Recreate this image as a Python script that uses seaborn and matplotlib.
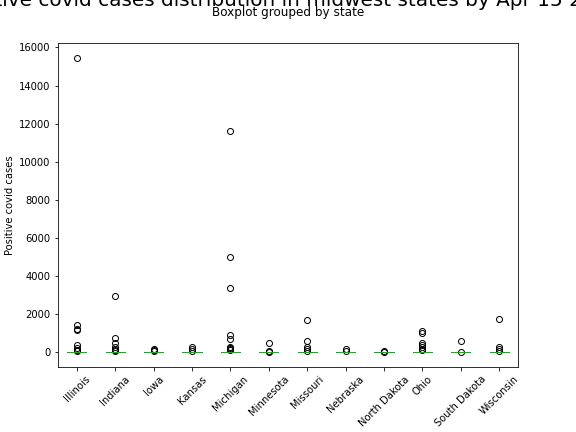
import matplotlib.pyplot as plt
import pandas as pd
import seaborn as sns

states = ['Illinois', 'Indiana', 'Iowa', 'Kansas', 'Michigan', 'Minnesota', 'Missouri',
          'Nebraska', 'North Dakota', 'Ohio', 'South Dakota', 'Wisconsin']

# typical small county counts shared by every state
bulk = [0, 0, 1, 1, 1, 2, 2, 2, 3, 3, 3, 4, 4, 5, 5, 6, 6, 7, 8, 8, 9, 10, 11, 12,
        13, 14, 15, 16, 18, 20, 22, 25, 28, 30]

# visible outliers per state
outliers = {
    'Illinois': [100, 150, 250, 400, 1200, 1250, 1450, 15450],
    'Indiana': [100, 150, 200, 300, 480, 780, 2980],
    'Iowa': [100, 150, 200],
    'Kansas': [100, 200, 300],
    'Michigan': [150, 200, 250, 300, 700, 900, 3400, 5020, 11600],
    'Minnesota': [50, 100, 500],
    'Missouri': [100, 200, 300, 600, 1680],
    'Nebraska': [100, 200],
    'North Dakota': [50, 100],
    'Ohio': [150, 200, 300, 400, 500, 1000, 1150],
    'South Dakota': [50, 620],
    'Wisconsin': [100, 200, 300, 1730],
}

rows = [(s, v) for s in states for v in bulk + outliers[s]]
df = pd.DataFrame(rows, columns=['state', 'positive'])

fig, ax = plt.subplots(figsize=(8, 6), dpi=72)
fig.subplots_adjust(left=0.10, right=0.90, top=0.90, bottom=0.15)
sns.boxplot(data=df, x='state', y='positive', order=states, ax=ax, fill=False,
            color='#1f77b4', width=0.5, linewidth=1,
            medianprops={'color': '#2ca02c'},
            flierprops={'marker': 'o', 'markerfacecolor': 'none',
                        'markeredgecolor': 'black', 'markersize': 6})
ax.set_xlabel('')
ax.set_ylabel('Positive covid cases')
ax.tick_params(axis='x', rotation=45)
fig.suptitle('Boxplot grouped by state', y=0.985, fontsize=12)
fig.text(0.5, 1.0, 'Positive covid cases distribution in midwest states by Apr 15 2020',
         ha='center', va='center', fontsize=20)
plt.savefig('out.png', dpi=72)
